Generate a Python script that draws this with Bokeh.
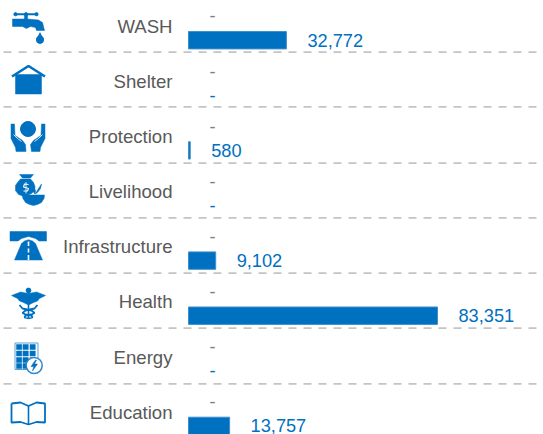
from bokeh.plotting import figure
from bokeh.models import Range1d
from bokeh.core.properties import value
from bokeh.embed import file_html
from bokeh.resources import INLINE

categories = ["WASH", "Shelter", "Protection", "Livelihood", "Infrastructure", "Health", "Energy", "Education"]
reached = [32772, 0, 580, 0, 9102, 83351, 0, 13757]
other = [0, 0, 0, 0, 0, 0, 0, 0]
value_labels = ["32,772", "-", "580", "-", "9,102", "83,351", "-", "13,757"]
other_labels = ["-"] * 8
separators_px = [51.7, 106.3, 162.7, 217.3, 272.7, 327.7, 383.3]

BLUE = "#0070C0"
EDGE = "#3E8FCC"
GREY = "#595959"
FONT = value("Liberation Sans")
W, H = 543, 434
ROW = 55.1
K = 249 / 83351          # px per unit
X0 = 188                 # px of the zero line
Y0 = 24                  # px of first row's centre

p = figure(width=W, height=H, output_backend="svg", toolbar_location=None,
           x_range=Range1d(-X0 / K, (W - X0) / K),
           y_range=Range1d((H - Y0) / ROW, -Y0 / ROW),
           x_axis_location=None, y_axis_location=None,
           min_border=0, outline_line_color=None)
p.grid.visible = False
p.extra_x_ranges["px"] = Range1d(0, W)
p.extra_y_ranges["px"] = Range1d(H, 0)

rows = list(range(len(categories)))

# separators
p.segment(x0=[3] * 7, x1=[W] * 7, y0=separators_px, y1=separators_px, x_range_name="px", y_range_name="px",
          line_color="#C4C4C4", line_width=1.8, line_dash="8 7")

# bars (rows with no value draw nothing)
drawn = [r for r in rows if reached[r] > 0]
p.hbar(y=[r + 0.285 for r in drawn], left=0, right=[reached[r] for r in drawn], height=0.316,
       fill_color=BLUE, line_color=EDGE, line_width=1)

# category labels
p.text(x=[172 / K - X0 / K] * 8, y=[r + 0.035 for r in rows], text=categories, text_align="right",
       text_baseline="middle", text_color=GREY, text_font=FONT, text_font_size="18.6px")
# value labels
off = 21 / K
p.text(x=[v + off for v in reached], y=[r + 0.285 for r in rows], text=value_labels, text_align="left",
       text_baseline="middle", text_color=BLUE, text_font=FONT, text_font_size="18.2px")
p.text(x=[v + off for v in other], y=[r - 0.155 for r in rows], text=other_labels, text_align="left",
       text_baseline="middle", text_color="#7F7F7F", text_font=FONT, text_font_size="18.2px")


# ---- icons, drawn in pixel space
def poly(xs, ys, color=BLUE):
    p.patch(xs, ys, x_range_name="px", y_range_name="px", fill_color=color, line_color=color, line_width=0.5)


def line(xs, ys, w=1.5, color=BLUE):
    p.line(xs, ys, x_range_name="px", y_range_name="px", line_color=color, line_width=w)


def circle(x, y, r, fill=BLUE, stroke=None, w=1):
    p.circle([x], [y], radius=r, x_range_name="px", y_range_name="px", fill_color=fill,
             line_color=stroke or fill, line_width=w)


# tap
line([14, 37], [13.7, 13.7], 2)
for cx in (15, 25.5, 36):
    circle(cx, 13.7, 1.6)
poly([24, 27, 27, 24], [14, 14, 19, 19])
poly([12, 24, 27, 38, 42, 44, 36, 35, 30, 26, 22, 12], [18.5, 18.5, 18.5, 19.5, 22, 30, 30, 27, 26, 28, 26, 26])
circle(39.5, 39.3, 3.6)
poly([39.5, 36.2, 42.8], [32, 38.5, 38.5])

# shelter
line([11.5, 28, 44.5], [76, 65.5, 76], 2.6)
poly([15, 41, 41, 15], [74, 74, 93.5, 93.5])

# protection
circle(27.5, 128.5, 7.5)
poly([10.5, 14, 14.5, 22, 25, 25.5, 15.5, 15, 10.5], [123.5, 123.5, 135, 140, 144, 151, 151, 147, 138])
poly([44.5, 41, 40.5, 33, 30, 31, 39.5, 40, 44.5], [123.5, 123.5, 135, 140, 144, 151, 151, 147, 138])
line([13, 17, 21], [134, 138, 141], 0.8, "#FFFFFF")
line([42, 38, 34], [134, 138, 141], 0.8, "#FFFFFF")

# livelihood
poly([19, 33, 30, 22], [174, 174, 177.5, 177.5])
poly([20, 30, 33, 34.5, 34, 31, 24, 18, 15, 15, 17], [178.5, 178.5, 182, 186, 190, 193, 196, 194, 190, 185, 182])
line([28, 24, 23, 28, 27, 23], [184, 183.5, 186.5, 188, 190.5, 190.5], 1.1, "#FFFFFF")
line([25.5, 25.5], [181.5, 193], 0.8, "#FFFFFF")
poly([21.5, 44, 43.5, 41, 37, 33, 29, 25, 22.5], [194.5, 194.5, 198, 202, 204, 205, 204, 202, 198])
poly([35, 38, 41, 40, 37, 35], [193, 188, 183.5, 188, 192, 193.5])
poly([31, 33, 35, 34.5, 32.5], [186, 186, 190, 193.5, 191])

# infrastructure
poly([9.5, 46, 46, 38.5, 35, 28, 21, 17.5, 9.5], [231, 231, 240.5, 240.5, 238, 236, 238, 240.5, 240.5])
poly([14, 21, 24, 28, 32, 35, 42], [259.5, 243, 240.5, 239.2, 240.5, 243, 259.5])
for y0, y1 in ((241, 245.5), (248, 252), (254.5, 259.5)):
    line([28, 28], [y0, y1], 1.6, "#FFFFFF")

# health
poly([28, 20, 11, 17, 19, 23, 28, 33, 37, 39, 45, 36], [293, 291.5, 295, 298, 300.5, 302, 304.5, 302, 300.5, 298, 295, 291.5])
circle(28, 290, 2.4)
line([28, 28], [291, 318], 1.6)
line([19, 22, 31, 34, 31, 25, 24, 28], [304.5, 308, 310, 312.5, 314, 315, 317, 318], 1.8)
line([37, 34, 25, 22, 25, 31, 32, 28], [304.5, 308, 310, 312.5, 314, 315, 317, 318], 1.8)

# energy
line([14.5, 37.5, 37.5, 14.5, 14.5], [342.5, 342.5, 369, 369, 342.5], 1, "#5B9FD6")
for cy in (344, 350.5, 357, 363):
    for cx in (16, 22.5, 29.5):
        poly([cx, cx + 5.3, cx + 5.3, cx], [cy, cy, cy + 5, cy + 5])
circle(33.7, 365, 8, "#FFFFFF", "#2E86CC", 1.5)
poly([35, 30.5, 33.2, 32, 37, 34, 36], [359.5, 366, 366, 370.5, 363.5, 363.5, 359.5])

# book
line([11, 20, 28, 36, 44.5, 44.5, 36, 28, 20, 11, 11], [403, 402, 405.5, 402, 403, 422, 421.5, 424, 421.5, 422, 403], 1.8)
line([28, 28], [405.5, 424], 1.6)

open("out.html", "w").write(file_html(p, INLINE))
